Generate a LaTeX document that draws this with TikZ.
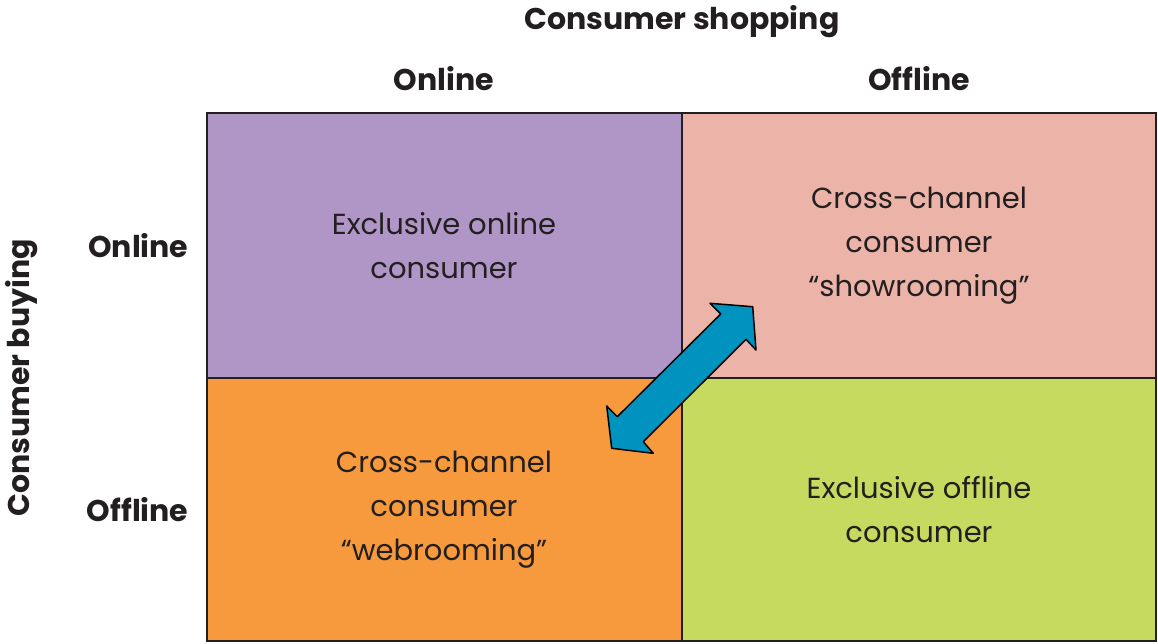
\documentclass[tikz,border=0pt]{standalone}
\usepackage{fontspec}
\setmainfont{Poppins}
\definecolor{cpurple}{HTML}{B096C6}
\definecolor{cpink}{HTML}{ECB4A8}
\definecolor{corange}{HTML}{F69A3D}
\definecolor{cgreen}{HTML}{C5DA5F}
\definecolor{cblue}{HTML}{0093BF}
\definecolor{ctext}{HTML}{231F20}
\begin{document}
\begin{tikzpicture}[x=1pt,y=-1pt,
  cell/.style={draw=ctext,line width=1.5pt},
  body/.style={align=center,font=\fontsize{29}{44}\selectfont,text=ctext},
  head/.style={font=\bfseries\fontsize{30}{36}\selectfont,text=ctext}]
\useasboundingbox (0,0) rectangle (1158,643);
\fill[cpurple] (207,113) rectangle (682,378);
\fill[cpink] (682,113) rectangle (1156,378);
\fill[corange] (207,378) rectangle (682,641);
\fill[cgreen] (682,378) rectangle (1156,641);
\draw[cell] (207,113) rectangle (1156,641);
\draw[cell] (682,113) -- (682,641);
\draw[cell] (207,378) -- (1156,378);
\node[body] (a) at (444,246) {Exclusive online\\consumer};
\node[body] (b) at (919,246) {Cross-channel\\consumer\\“showrooming”};
\node[body] (c) at (444,510) {Cross-channel\\consumer\\“webrooming”};
\node[body] (d) at (919,510) {Exclusive offline\\consumer};
\node[head] (t) at (682,22) {Consumer shopping};
\node[head] (t1) at (444,79) {Online};
\node[head] (t2) at (919,79) {Offline};
\node[head,rotate=90] (s) at (22,378) {Consumer buying};
\node[head,anchor=east] (s1) at (192,246) {Online};
\node[head,anchor=east] (s2) at (192,510) {Offline};
\draw[fill=cblue,draw=black,line width=1.5pt,line join=round]
 (752.7,306.7) -- (756,350) -- (746,339.3) -- (643.3,441.7) -- (653.3,453.3)
 -- (611.7,448.3) -- (606.7,406) -- (617.3,416.7) -- (720.7,314) -- (710,303.3) -- cycle;
\end{tikzpicture}
\end{document}
